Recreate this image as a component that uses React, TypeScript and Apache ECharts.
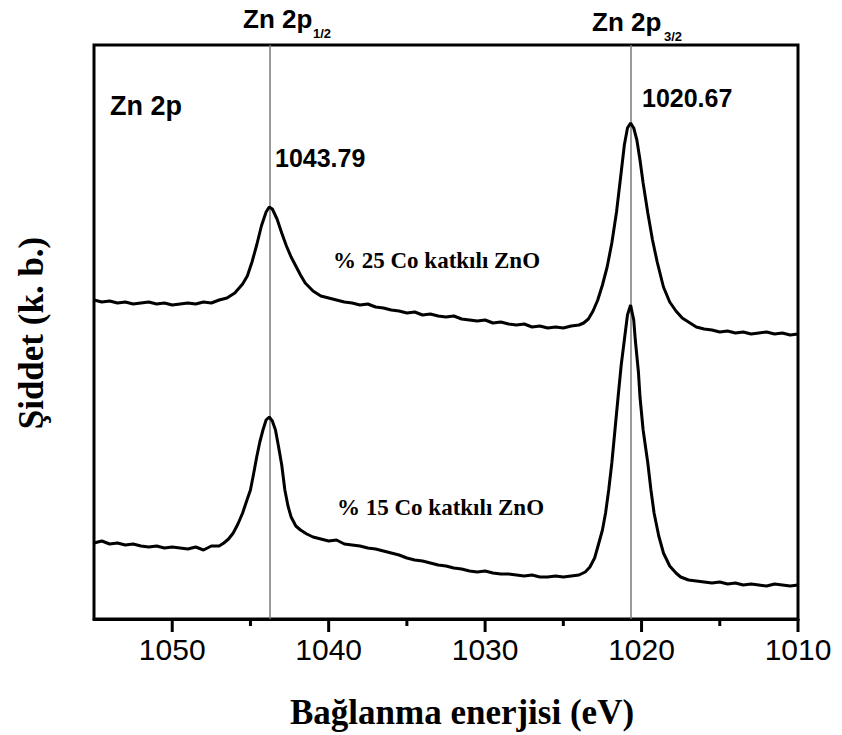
import React, { useEffect, useRef } from "react";
import * as echarts from "echarts";

// Binding energy (eV) and intensity (a.u.)
const energy25 = [
  1055, 1054.5, 1054, 1053.5, 1053, 1052.5, 1052, 1051.5, 1051, 1050.5, 1050, 1049.5, 1049, 1048.5, 1048, 1047.5, 1047,
  1046.5, 1046, 1045.5,
  1045.2, 1044.9, 1044.6, 1044.3, 1044.0, 1043.8, 1043.6, 1043.3, 1043.0, 1042.7, 1042.4, 1042.1, 1041.8, 1041.5,
  1041, 1040.5, 1040, 1039.5, 1039, 1038.5, 1038, 1037.5, 1037, 1036.5, 1036, 1035.5, 1035, 1034.5, 1034, 1033.5, 1033,
  1032.5, 1032, 1031.5, 1031, 1030.5, 1030, 1029.5, 1029, 1028.5, 1028, 1027.5, 1027, 1026.5, 1026, 1025.5, 1025, 1024.5, 1024,
  1023.7, 1023.4, 1023.1, 1022.8, 1022.5, 1022.2, 1021.9, 1021.6, 1021.3, 1021.1, 1020.9, 1020.7, 1020.5, 1020.3, 1020.1,
  1019.9, 1019.6, 1019.3, 1019.0, 1018.6, 1018.2, 1017.8, 1017.4, 1017.0,
  1016.5, 1016, 1015.5, 1015, 1014.5, 1014, 1013.5, 1013, 1012.5, 1012, 1011.5, 1011, 1010.5, 1010,
];
const intensity25 = [
  319, 317, 318, 316, 317, 315, 316, 317, 315, 316, 314, 315, 316, 315, 317, 316, 319,
  321, 326, 335,
  343, 357, 374, 393, 407, 412, 410, 400, 386, 373, 362, 353, 344, 336,
  328, 323, 321, 319, 317, 316, 314, 315, 312, 311, 309, 308, 306, 307, 304, 305, 303,
  302, 303, 300, 299, 298, 299, 296, 297, 295, 294, 295, 292, 293, 291, 292, 291, 293, 294,
  296, 300, 308, 319, 334, 352, 376, 407, 447, 474, 491, 496, 491, 479, 459,
  436, 406, 379, 357, 332, 317, 308, 301, 297,
  292, 290, 289, 287, 288, 286, 287, 285, 286, 287, 285, 286, 284, 285,
];

const energy15 = [
  1055, 1054.5, 1054, 1053.5, 1053, 1052.5, 1052, 1051.5, 1051, 1050.5, 1050, 1049.5, 1049, 1048.5, 1048, 1047.5, 1047,
  1046.7, 1046.4, 1046.1, 1045.8, 1045.5, 1045.2, 1045.0, 1044.8, 1044.6, 1044.4, 1044.2, 1044.0, 1043.8, 1043.6, 1043.4,
  1043.2, 1043.0, 1042.8, 1042.6, 1042.4, 1042.1, 1041.8, 1041.4,
  1041, 1040.5, 1040, 1039.5, 1039, 1038.5, 1038, 1037.5, 1037, 1036.5, 1036, 1035.5, 1035, 1034.5, 1034, 1033.5, 1033,
  1032.5, 1032, 1031.5, 1031, 1030.5, 1030, 1029.5, 1029, 1028.5, 1028, 1027.5, 1027, 1026.5, 1026, 1025.5, 1025, 1024.5, 1024,
  1023.6, 1023.3, 1023.0, 1022.8, 1022.5, 1022.3, 1022.1, 1021.9, 1021.7, 1021.5, 1021.3, 1021.1, 1020.9, 1020.7,
  1020.5, 1020.4, 1020.2, 1020.1, 1019.9, 1019.6, 1019.4, 1019.2, 1018.9, 1018.6, 1018.2, 1017.8, 1017.5, 1017.0,
  1016.5, 1016, 1015.5, 1015, 1014.5, 1014, 1013.5, 1013, 1012.5, 1012, 1011.5, 1011, 1010.5, 1010,
];
const intensity15 = [
  76, 78, 75, 76, 74, 75, 73, 72, 73, 71, 72, 71, 70, 72, 69, 73, 73,
  76, 80, 86, 95, 106, 120, 129, 145, 162, 177, 189, 199, 202, 198, 189,
  172, 154, 129, 113, 102, 93, 89, 85,
  82, 80, 78, 79, 75, 74, 73, 71, 70, 68, 66, 64, 61, 59, 58, 56, 54,
  53, 51, 50, 48, 47, 48, 46, 45, 45, 44, 43, 44, 42, 42, 43, 42, 43, 44,
  47, 52, 61, 72, 89, 106, 129, 156, 189, 222, 254, 279, 304, 314,
  299, 279, 247, 222, 189, 156, 129, 106, 83, 66, 53, 46, 42, 39,
  38, 37, 36, 37, 35, 36, 34, 35, 34, 33, 35, 34, 33, 34,
];

const peakEnergies = [1043.79, 1020.67];
const majorTicks = [1010, 1020, 1030, 1040, 1050];
const minorTicks = [1015, 1025, 1035, 1045];
const xMin = 1010;
const xMax = 1055;
const majorStep = 10;
const seriesNames = ["% 25 Co katkılı ZnO", "% 15 Co katkılı ZnO"];

const SANS = "'Liberation Sans', Arial, Helvetica, sans-serif";
const SERIF = "'Liberation Serif', 'Times New Roman', serif";

function txt(text: string, x: number, y: number, font: string, align = "left", rotation = 0) {
  return {
    type: "text",
    x,
    y,
    rotation,
    silent: true,
    z: 50,
    style: {
      text,
      font,
      fill: "#000",
      align,
      textAlign: align,
      verticalAlign: "middle",
      textVerticalAlign: "middle",
    },
  };
}

export default function App() {
  const ref = useRef<HTMLDivElement>(null);
  useEffect(() => {
    document.body.style.margin = "0";
    const chart = echarts.init(ref.current!, null, { renderer: "svg" });
    const pair = (e: number[], v: number[]) => e.map((x, i) => [x, v[i]]);
    chart.setOption({
      animation: false,
      backgroundColor: "#ffffff",
      grid: {
        left: 94,
        right: 44,
        top: 45,
        bottom: 116,
        show: true,
        borderColor: "#000",
        borderWidth: 3,
      },
      xAxis: {
        type: "value",
        min: xMin,
        max: xMax,
        interval: majorStep,
        inverse: true,
        axisLine: { show: true, lineStyle: { color: "#000", width: 3 } },
        axisTick: { show: false },
        minorTick: { show: false },
        axisLabel: {
          show: true,
          margin: 15,
          fontSize: 30,
          color: "#000",
          fontFamily: SANS,
          formatter: (v: number) => (v % majorStep === 0 ? String(v) : ""),
        },
        splitLine: { show: false },
      },
      yAxis: {
        type: "value",
        min: 0,
        max: 574,
        axisLine: { show: false },
        axisTick: { show: false },
        axisLabel: { show: false },
        splitLine: { show: false },
      },
      series: [
        {
          name: seriesNames[0],
          type: "line",
          data: pair(energy25, intensity25),
          showSymbol: false,
          lineStyle: { color: "#000", width: 3 },
          z: 3,
          markLine: {
            silent: true,
            symbol: ["none", "none"],
            label: { show: false },
            lineStyle: { color: "#7a7a7a", width: 1.5, type: "solid" },
            data: peakEnergies.map((e) => ({ xAxis: e })),
            z: 2,
          },
        },
        {
          name: seriesNames[1],
          type: "line",
          data: pair(energy15, intensity15),
          showSymbol: false,
          lineStyle: { color: "#000", width: 3 },
          z: 3,
        },
      ],
    });

    // tick marks placed through the axis scale, outward from the bottom axis line (filled bars)
    const yRaw = chart.convertToPixel({ yAxisIndex: 0 }, 0) as any;
    const y0 = Array.isArray(yRaw) ? yRaw[1] : Number(yRaw);
    const tick = (v: number, len: number) => {
      const xRaw = chart.convertToPixel({ xAxisIndex: 0 }, v) as any;
      const x = Array.isArray(xRaw) ? xRaw[0] : Number(xRaw);
      return {
        type: "rect",
        silent: true,
        z: 100,
        shape: { x: x - 1.5, y: y0, width: 3, height: len },
        style: { fill: "#000" },
      };
    };

    chart.setOption({
      graphic: [
        ...majorTicks.map((v) => tick(v, 13)),
        ...minorTicks.map((v) => tick(v, 7)),
        txt("Zn 2p", 110, 106, `bold 27px ${SANS}`),
        txt("Zn 2p", 243, 19, `bold 26px ${SANS}`),
        txt("1/2", 313, 33, `bold 13px ${SANS}`),
        txt("Zn 2p", 592, 22, `bold 26px ${SANS}`),
        txt("3/2", 664, 36, `bold 13px ${SANS}`),
        txt(peakEnergies[0].toFixed(2), 275, 158, `bold 25px ${SANS}`),
        txt(peakEnergies[1].toFixed(2), 642, 98, `bold 25px ${SANS}`),
        txt(seriesNames[0], 333, 260, `bold 23px ${SERIF}`),
        txt(seriesNames[1], 337, 507, `bold 23px ${SERIF}`),
        txt("Bağlanma enerjisi (eV)", 462, 712, `bold 35px ${SERIF}`, "center"),
        txt("Şiddet (k. b.)", 31, 333, `bold 35px ${SERIF}`, "center", Math.PI / 2),
      ],
    });
    return () => chart.dispose();
  }, []);
  return <div ref={ref} style={{ width: 842, height: 735 }} />;
}
